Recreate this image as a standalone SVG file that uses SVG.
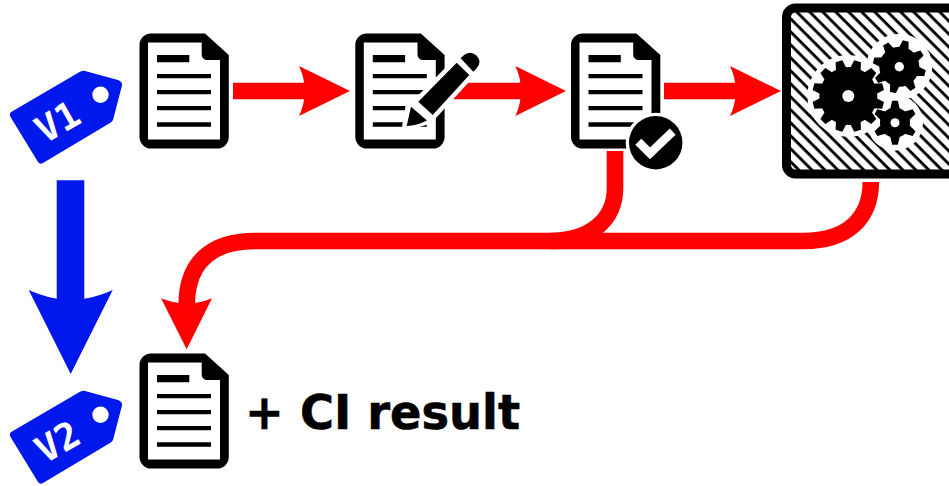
<svg xmlns="http://www.w3.org/2000/svg" width="949" height="486" viewBox="0 0 949 486">
<style>
.red{fill:none;stroke:#ff0000;stroke-width:16.6}
.redf{fill:#ff0000}
.blue{fill:#0018ec}
.tagt{font-family:"DejaVu Sans Mono",monospace;font-weight:bold;font-size:37px;fill:#fff;text-anchor:middle}
.lbl{font-family:"DejaVu Sans",sans-serif;font-weight:bold;font-size:48px;fill:#000;stroke:#000;stroke-width:.6}
</style>
<defs>
<g id="doc">
<path d="M11 0H65.500L89.300 21.500V103.500A11.500 11.500 0 0 1 77.800 115H11.500A11.500 11.500 0 0 1 0 103.500V11.500A11.500 11.500 0 0 1 11.500 0Z" fill="#000"/>
<path d="M8.500 9H62.200V21A5.500 5.500 0 0 0 67.700 26.500H80.500V106H8.500Z" fill="#fff"/>
<path d="M17.500 21.500H49.800V28.800H17.500ZM17.500 40.500H71.500V44.800H17.500ZM17.500 56.500H71.500V60.800H17.500ZM17.500 72.500H71.500V76.800H17.500ZM17.500 88.800H71.500V93.200H17.500Z" fill="#000"/>
</g>
<g id="tag">
<path d="M12 111.500L80 71.800Q83 70.500 85 71L118 80Q122.500 81.500 122 85.500L113 120Q112 122 110 123L43 163Q40 165 38 162L10.500 117Q8.500 113.500 12 111.500Z" class="blue"/>
<circle cx="100.500" cy="94.700" r="8.200" fill="#fff"/>
</g>
<path id="t1" d="M-5.500 -27L-3.500 -36H3.500L5.500 -27Z"/>
<path id="t2" d="M-5 -18L-3 -26.500H3L5 -18Z"/>
<path id="t3" d="M-5 -13L-2.800 -22H2.800L5 -13Z"/>
<pattern id="hatch" width="9.190" height="9.190" patternUnits="userSpaceOnUse" patternTransform="translate(838.840 0) rotate(45)">
<rect x="0" y="0" width="9.190" height="2.900" fill="#000"/>
</pattern>
</defs>
<g id="connectors">
<path class="red" d="M233 91H305"/>
<path class="redf" d="M350 91L299 66Q303.200 75 304 82.700V99.300Q303.200 107 299 116Z"/>
<path class="red" d="M450 91H522"/>
<path class="redf" d="M566 91L515.300 66Q519.500 75 520.300 82.700V99.300Q519.500 107 515.300 116Z"/>
<path class="red" d="M664 91H736"/>
<path class="redf" d="M781 91L730 66Q734.200 75 735 82.700V99.300Q734.200 107 730 116Z"/>
<path class="red" d="M615 151V188C615 220 590 241 550 241H255C212 241 186.700 262 186.700 305"/>
<path class="red" d="M870.800 182C870.800 216 850 241 803 241H550"/>
<path class="redf" d="M186.700 349.300L161 298.300Q170 302 178.400 303H195Q204 302 212 298.300Z"/>
<path class="blue" d="M56.700 180.300H84.300V298.700Q100 296 112.700 290L70.700 374L28.700 290Q42 296 56.700 298.700Z"/>
</g>
<g id="tag-v1">
<use href="#tag"/>
<text class="tagt" transform="translate(64 133) rotate(-30)">V1</text>
</g>
<g id="doc-v1"><use href="#doc" x="139.500" y="33.500"/></g>
<g id="doc-edit">
<use href="#doc" x="355.300" y="33.500"/>
<path d="M406.700 126L410 106.700L418.300 101.700L456.700 62.700L460.700 58.300L470 53.300Q476 52 479.300 61.700L473.300 71.700L469.300 75L432.700 115L427.300 120Z" fill="#fff" stroke="#fff" stroke-width="9" stroke-linejoin="round"/>
<path d="M406.700 126L411 106.800L427 120.500Q417 125.500 406.700 126ZM418.300 101.700L456.700 62.700L469.300 75L432.700 115ZM460.700 58.300L463.500 55.500Q470 50 476.500 55.500Q482.500 62 476.500 68.500L473.300 71.700Z" fill="#000"/>
</g>
<g id="doc-check">
<use href="#doc" x="571" y="33.500"/>
<circle cx="655.700" cy="142.700" r="30" fill="#fff"/>
<circle cx="655.700" cy="142.700" r="26.700" fill="#000"/>
<path d="M638.300 141.700L650 153.300L672.700 131.700" fill="none" stroke="#fff" stroke-width="8.500"/>
</g>
<g id="ci">
<rect x="786.500" y="8" width="170" height="166" rx="9" fill="url(#hatch)" stroke="#000" stroke-width="9"/>
<circle cx="848.300" cy="96" r="41" fill="#fff"/>
<circle cx="899.300" cy="66.700" r="33" fill="#fff"/>
<circle cx="895" cy="122.700" r="28" fill="#fff"/>
<g transform="translate(848.300 96)">
<circle r="29"/>
<use href="#t1" transform="rotate(15)"/><use href="#t1" transform="rotate(45)"/><use href="#t1" transform="rotate(75)"/><use href="#t1" transform="rotate(105)"/><use href="#t1" transform="rotate(135)"/><use href="#t1" transform="rotate(165)"/><use href="#t1" transform="rotate(195)"/><use href="#t1" transform="rotate(225)"/><use href="#t1" transform="rotate(255)"/><use href="#t1" transform="rotate(285)"/><use href="#t1" transform="rotate(315)"/><use href="#t1" transform="rotate(345)"/>
<circle r="6" fill="#fff"/>
</g>
<g transform="translate(899.300 66.700)">
<circle r="20"/>
<use href="#t2" transform="rotate(14)"/><use href="#t2" transform="rotate(59)"/><use href="#t2" transform="rotate(104)"/><use href="#t2" transform="rotate(149)"/><use href="#t2" transform="rotate(194)"/><use href="#t2" transform="rotate(239)"/><use href="#t2" transform="rotate(284)"/><use href="#t2" transform="rotate(329)"/>
<circle r="4.700" fill="#fff"/>
</g>
<g transform="translate(895 122.700)">
<circle r="15"/>
<use href="#t3"/><use href="#t3" transform="rotate(60)"/><use href="#t3" transform="rotate(120)"/><use href="#t3" transform="rotate(180)"/><use href="#t3" transform="rotate(240)"/><use href="#t3" transform="rotate(300)"/>
<circle r="4.500" fill="#fff"/>
</g>
</g>
<g id="tag-v2">
<use href="#tag" y="320"/>
<text class="tagt" transform="translate(64 453) rotate(-30)">V2</text>
</g>
<g id="doc-v2">
<use href="#doc" x="139.500" y="353.500"/>
<text class="lbl" transform="translate(245 428.500) scale(.965 1)">+ CI result</text>
</g>
</svg>
